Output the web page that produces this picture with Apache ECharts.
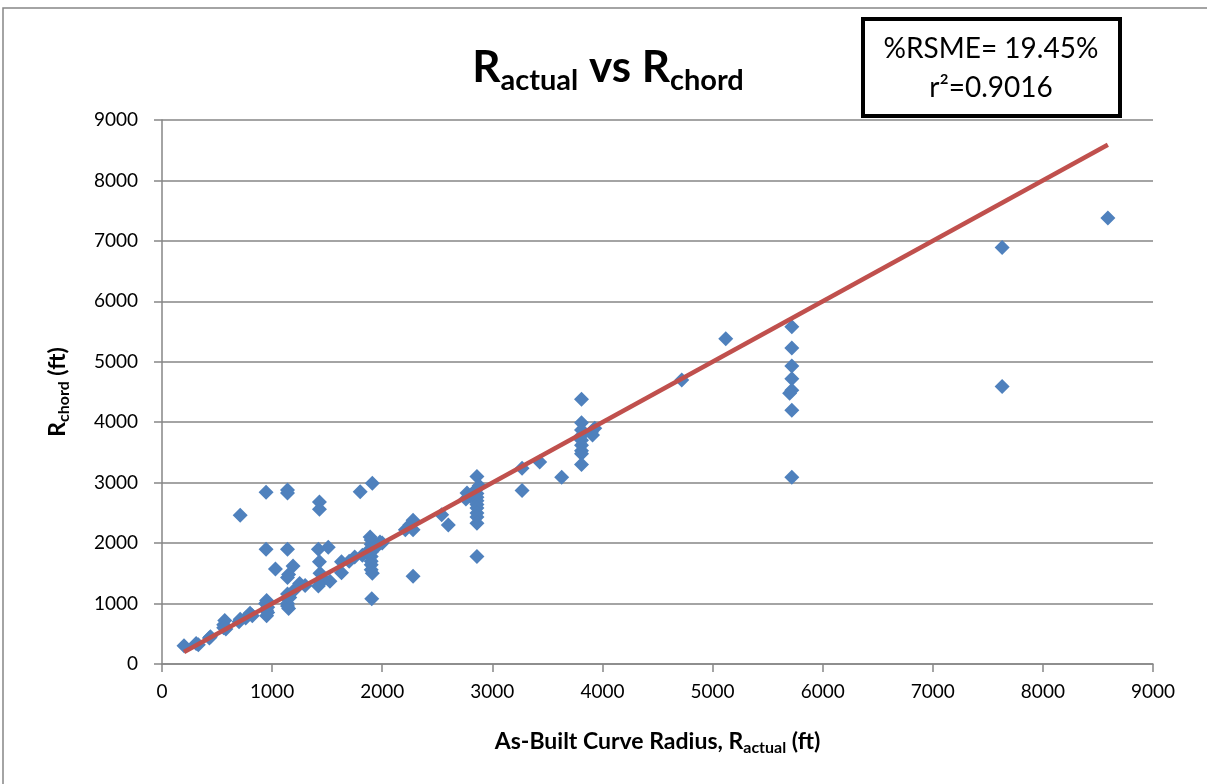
<!DOCTYPE html>
<html>
<head>
<meta charset="utf-8">
<script src="https://cdn.jsdelivr.net/npm/echarts@6/dist/echarts.min.js"></script>
<style>
html,body{margin:0;padding:0;background:#fff;}
#chart{width:1207px;height:784px;}
</style>
</head>
<body>
<div id="chart"></div>
<script>
// As-built curve radius R_actual (ft) vs R_chord (ft)
const ractual = [
  200,310,330,440,430,560,570,560,580,700,710,760,800,820,950,940,950,960,950,960,
  1030,1140,1150,1190,1140,1140,1140,1140,1150,1160,1200,1250,1300,
  710,945,945,1140,1140,1140,
  1430,1430,1800,1910,1420,1510,1430,1435,1420,1440,1460,1525,1630,1630,1750,1700,1820,1860,
  1890,1900,1900,1900,1900,1900,1900,1900,1900,1910,1905,1980,1960,2000,2210,2250,2270,2280,2280,2280,
  2540,2600,2760,2770,2800,2860,2860,2860,2860,2860,2860,2860,2860,2860,2860,2860,2880,
  3270,3270,3430,3630,3810,3810,3810,3810,3810,3810,3810,3810,3810,3900,3910,3930,
  4720,5120,5720,5720,5720,5720,5720,5700,5720,5720,7630,7630,8590
];
const rchord = [
  300,340,320,450,430,650,720,600,580,700,740,760,840,800,1050,1000,890,940,800,850,
  1570,1430,1480,1620,1160,1080,1000,960,920,1100,1220,1330,1300,
  2460,2840,1900,2880,2830,1900,
  2680,2560,2850,2990,1900,1930,1690,1500,1290,1350,1420,1370,1690,1510,1770,1700,1800,1850,
  2100,2050,1980,1900,1850,1780,1700,1640,1560,1500,1080,2020,1960,2000,2220,2300,2330,2380,2220,1450,
  2470,2300,2730,2830,2770,3100,2900,2820,2760,2700,2640,2580,2500,2430,2330,1780,2950,
  3240,2870,3340,3090,4380,3990,3870,3780,3700,3620,3530,3480,3300,3840,3790,3900,
  4700,5380,5580,5230,4930,4720,4530,4480,4200,3090,6890,4590,7380
];
// 1:1 reference line
const lineX = [200, 8590];
const lineY = [200, 8590];
const xTicks = [0,1000,2000,3000,4000,5000,6000,7000,8000,9000];
const yTicks = [0,1000,2000,3000,4000,5000,6000,7000,8000,9000];

const FONT = 'Lato, "Open Sans", sans-serif';
const chart = echarts.init(document.getElementById('chart'), null, {renderer:'canvas'});
const pts = ractual.map((x,i)=>[x, rchord[i]]);
const linePts = lineX.map((x,i)=>[x, lineY[i]]);
const axisRich = {
  a:{fontSize:23, fontWeight:'bold', fontFamily:FONT, color:'#000', lineHeight:29, verticalAlign:'middle'},
  b:{fontSize:16, fontWeight:'bold', fontFamily:FONT, color:'#000', verticalAlign:'bottom'}
};

chart.setOption({
  animation:false,
  backgroundColor:'#fff',
  grid:{left:162, right:54, top:120, bottom:120, containLabel:false},
  xAxis:{
    type:'value', min:xTicks[0], max:xTicks[xTicks.length-1], interval:1000,
    axisLine:{show:true, onZero:false, lineStyle:{color:'#868686', width:1.5}},
    axisTick:{show:true, length:8, inside:false, lineStyle:{color:'#868686', width:1.5}},
    splitLine:{show:false},
    axisLabel:{color:'#000', fontSize:19, fontFamily:FONT, margin:18, formatter:v=>String(v)},
    name:'{a|As-Built Curve Radius, R}{b|actual}{a| (ft)}',
    nameLocation:'middle', nameGap:63,
    nameTextStyle:{rich:axisRich}
  },
  yAxis:{
    type:'value', min:yTicks[0], max:yTicks[yTicks.length-1], interval:1000,
    axisLine:{show:true, lineStyle:{color:'#868686', width:1.5}},
    axisTick:{show:true, length:8, inside:false, lineStyle:{color:'#868686', width:1.5}},
    splitLine:{show:true, lineStyle:{color:'#868686', width:1.5}},
    axisLabel:{color:'#000', fontSize:19, fontFamily:FONT, margin:24, formatter:v=>String(v)},
    name:'{a|R}{b|chord}{a| (ft)}',
    nameLocation:'middle', nameGap:90, nameRotate:90,
    nameTextStyle:{rich:axisRich}
  },
  series:[
    {
      type:'scatter', data:pts, symbol:'diamond', symbolSize:15,
      itemStyle:{color:'#4F81BD', opacity:1}, z:2
    },
    {
      type:'line', data:linePts, symbol:'none', showSymbol:false,
      lineStyle:{color:'#C0504D', width:4.5}, z:3
    }
  ],
  graphic:[
    {type:'rect', shape:{x:3, y:8, width:1230, height:800}, style:{fill:'none', stroke:'#868686', lineWidth:1.5}, silent:true, z:0},
    {type:'text', x:608, y:68, style:{
      text:'{a|R}{b|actual}{a| vs R}{b|chord}',
      align:'center', verticalAlign:'middle',
      rich:{
        a:{fontSize:44, fontWeight:'bold', fontFamily:FONT, fill:'#000', lineHeight:54, verticalAlign:'middle'},
        b:{fontSize:29, fontWeight:'bold', fontFamily:FONT, fill:'#000', verticalAlign:'bottom'}
      }
    }, z:10},
    {type:'rect', shape:{x:863, y:19, width:257, height:97}, style:{fill:'#fff', stroke:'#000', lineWidth:4}, z:10},
    {type:'text', x:991, y:49, style:{text:'%RSME= 19.45%', align:'center', verticalAlign:'middle', fontSize:28, fontFamily:FONT, fill:'#000'}, z:11},
    {type:'text', x:991, y:88, style:{text:'r²=0.9016', align:'center', verticalAlign:'middle', fontSize:28, fontFamily:FONT, fill:'#000'}, z:11}
  ]
});
</script>
</body>
</html>
